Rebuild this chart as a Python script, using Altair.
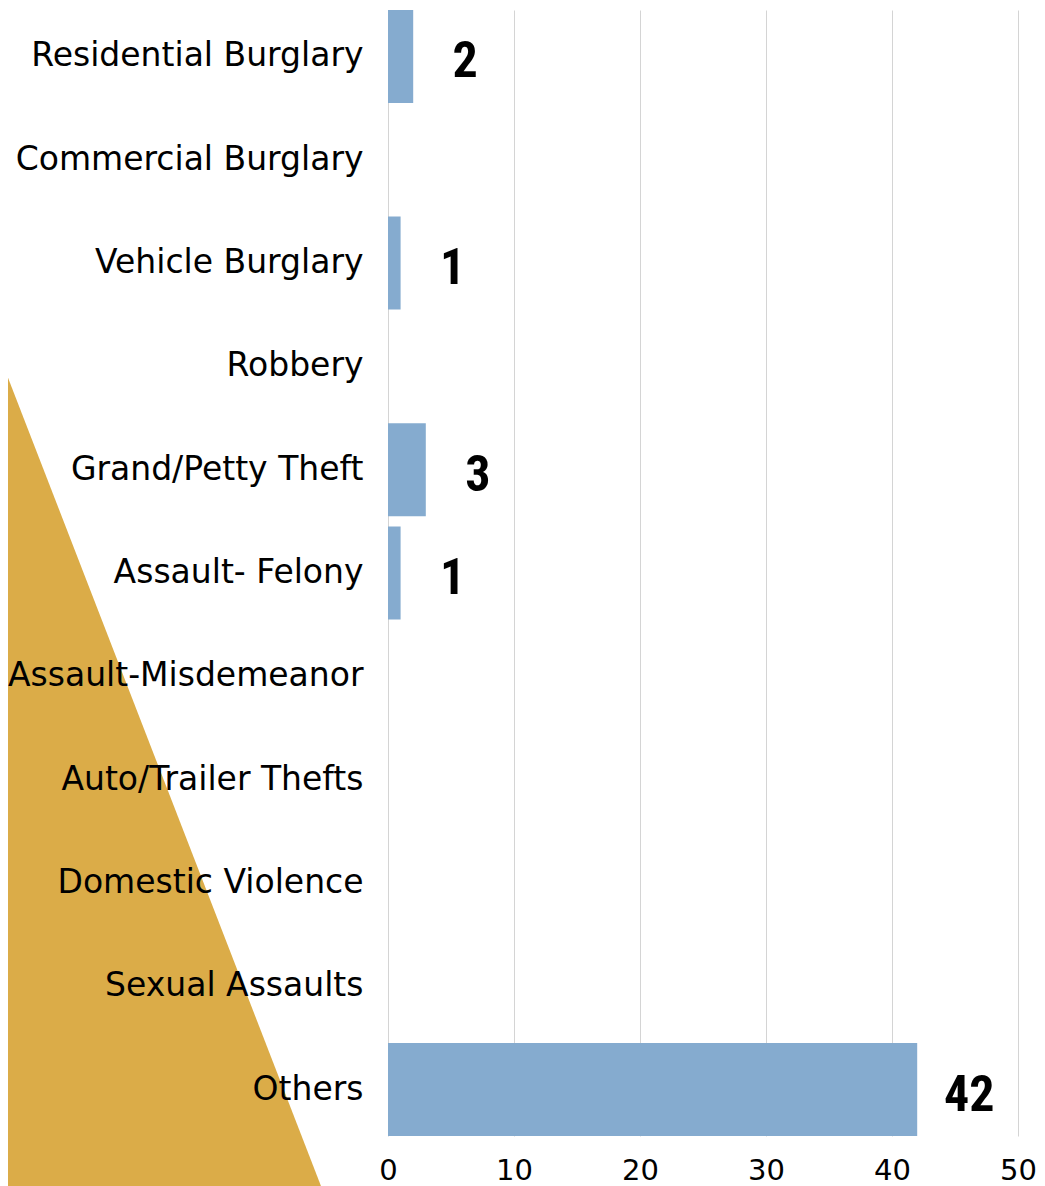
import altair as alt
import pandas as pd

categories = [
    "Residential Burglary", "Commercial Burglary", "Vehicle Burglary", "Robbery",
    "Grand/Petty Theft", "Assault- Felony", "Assault-Misdemeanor",
    "Auto/Trailer Thefts", "Domestic Violence", "Sexual Assaults", "Others",
]
values = [2, 0, 1, 0, 3, 1, 0, 0, 0, 0, 42]
x_ticks = [0, 10, 20, 30, 40, 50]

df = pd.DataFrame({"category": categories, "value": values})

BAR = "#85ABCF"
GOLD = "#DBAC48"
NUM_FONT = "Roboto Condensed, DejaVu Sans Condensed, sans-serif"

# decorative gold triangle (background shape, drawn relative to plot origin)
tri = (
    alt.Chart(pd.DataFrame({"k": [0]}))
    .mark_point(
        shape="M-400,316 L-61.6,1190 L-400,1190 Z",
        filled=True, size=4, color=GOLD, opacity=1, strokeWidth=0, clip=False,
    )
    .encode(x=alt.value(0), y=alt.value(0))
)

y_enc = alt.Y(
    "category:N", sort=categories, title=None,
    scale=alt.Scale(paddingInner=0.1, paddingOuter=0),
    axis=alt.Axis(
        labelFont="DejaVu Sans", labelFontSize=33, labelColor="#000000",
        labelPadding=25, ticks=False, domain=False, grid=False,
        labelLimit=0, zindex=1,
    ),
)
x_enc = alt.X(
    "value:Q", title=None,
    scale=alt.Scale(domain=[0, 50], nice=False),
    axis=alt.Axis(
        values=x_ticks, labelFont="DejaVu Sans", labelFontSize=29,
        labelColor="#000000", labelPadding=20, labelFlush=False,
        ticks=False, domain=False,
        grid=True, gridColor="#D4D4D4", gridWidth=1, zindex=0,
    ),
)

bars = alt.Chart(df).mark_bar(color=BAR).encode(x=x_enc, y=y_enc)

labels = (
    alt.Chart(df)
    .transform_filter("datum.value > 0")
    .mark_text(
        align="center", baseline="middle", dx=52, dy=6,
        font=NUM_FONT, fontWeight="bold", fontSize=50, color="#000000",
    )
    .encode(x="value:Q", y=alt.Y("category:N", sort=categories), text="value:Q")
)

chart = (
    alt.layer(tri, bars, labels)
    .properties(
        width=630, height=1126,
        autosize=alt.AutoSizeParams(type="none"),
        padding={"left": 380, "top": 2, "right": 19, "bottom": 50},
        background="white",
    )
    .configure_view(stroke=None)
)

chart.save("out.html", embed_options={"renderer": "svg", "actions": False})
